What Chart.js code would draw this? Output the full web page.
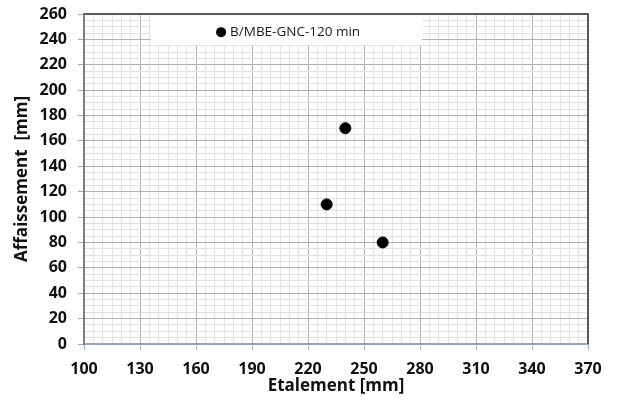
<!DOCTYPE html>
<html>
<head>
<meta charset="utf-8">
<script src="https://cdn.jsdelivr.net/npm/chart.js@4/dist/chart.umd.min.js"></script>
<style>
  html, body { margin: 0; padding: 0; background: #ffffff; }
  #wrap { width: 617px; height: 400px; }
</style>
</head>
<body>
<div id="wrap"><canvas id="c" width="617" height="400"></canvas></div>
<script>
// ---- data ----
const seriesLabel = "B/MBE-GNC-120 min";
const etalement = [240, 230, 260];     // x values [mm]
const affaissement = [170, 110, 80];   // y values [mm]
const xTickLabels = [100, 130, 160, 190, 220, 250, 280, 310, 340, 370];
const yTickLabels = [0, 20, 40, 60, 80, 100, 120, 140, 160, 180, 200, 220, 240, 260];
const xTitle = "Etalement [mm]";
const yTitle = "Affaissement  [mm]";

const points = etalement.map((x, i) => ({ x: x, y: affaissement[i] }));

const MAJOR = '#b0b0b0';
const MINOR = '#e2e2e2';

const legendBox = {
  id: 'legendBox',
  beforeDatasetsDraw(chart) {
    const ctx = chart.ctx, a = chart.chartArea;
    const w = a.right - a.left, h = a.bottom - a.top;
    const x0 = a.left + w * 0.132, x1 = a.left + w * 0.671;
    const y0 = a.top + 1, y1 = a.top + h * 0.094;
    ctx.save();
    ctx.fillStyle = '#ffffff';
    ctx.fillRect(x0, y0, x1 - x0, y1 - y0);
    // marker
    const mx = a.left + w * 0.272, my = a.top + h * 0.055;
    ctx.fillStyle = '#000000';
    ctx.beginPath();
    ctx.arc(mx, my, 5, 0, Math.PI * 2);
    ctx.fill();
    ctx.font = '13.5px "Open Sans"';
    ctx.fillStyle = '#1a1a1a';
    ctx.textBaseline = 'middle';
    ctx.textAlign = 'left';
    ctx.fillText(chart.data.datasets[0].label, mx + 9, my + 0.5);
    ctx.restore();
  },
  afterDraw(chart) {
    const ctx = chart.ctx, a = chart.chartArea;
    ctx.save();
    ctx.strokeStyle = '#595959';
    ctx.lineWidth = 2;
    ctx.beginPath();
    ctx.moveTo(a.left, a.top);
    ctx.lineTo(a.right, a.top);
    ctx.lineTo(a.right, a.bottom);
    ctx.stroke();
    ctx.restore();
  }
};

new Chart(document.getElementById('c'), {
  type: 'scatter',
  data: {
    datasets: [{
      label: seriesLabel,
      data: points,
      backgroundColor: '#000000',
      borderColor: '#000000',
      pointRadius: 5.5,
      pointHoverRadius: 5.5
    }]
  },
  options: {
    responsive: false,
    animation: false,
    events: [],
    layout: { padding: { left: 0, right: 29, top: 14, bottom: 0 } },
    plugins: {
      legend: { display: false },
      tooltip: { enabled: false }
    },
    scales: {
      x: {
        type: 'linear',
        min: xTickLabels[0],
        max: xTickLabels[xTickLabels.length - 1],
        afterFit(s) { s.height = 56; s.paddingLeft = 0; s.paddingRight = 0; },
        afterBuildTicks(s) {
          const t = [];
          for (let v = s.min; v <= s.max + 1e-9; v += 5) t.push({ value: v });
          s.ticks = t;
        },
        ticks: {
          autoSkip: false,
          maxRotation: 0,
          padding: 10,
          color: '#111111',
          font: { family: '"Open Sans"', size: 16, weight: 'bold' },
          callback: (v) => xTickLabels.includes(v) ? String(v) : ''
        },
        grid: {
          color: (c) => (c.tick && xTickLabels.includes(c.tick.value)) ? MAJOR : MINOR,
          tickColor: (c) => (c.tick && xTickLabels.includes(c.tick.value)) ? '#9db3d6' : 'rgba(0,0,0,0)',
          tickLength: 6,
          lineWidth: 1
        },
        border: { color: '#8ea4c8', width: 2 },
        title: {
          display: true,
          text: xTitle,
          color: '#111111',
          font: { family: '"Open Sans"', size: 17, weight: 'bold' },
          padding: { top: 0, bottom: 4 }
        }
      },
      y: {
        type: 'linear',
        min: yTickLabels[0],
        max: yTickLabels[yTickLabels.length - 1],
        afterFit(s) { s.width = 84; s.paddingTop = 0; s.paddingBottom = 0; },
        afterBuildTicks(s) {
          const t = [];
          for (let v = s.min; v <= s.max + 1e-9; v += 5) t.push({ value: v });
          s.ticks = t;
        },
        ticks: {
          autoSkip: false,
          padding: 11,
          color: '#111111',
          font: { family: '"Open Sans"', size: 16, weight: 'bold' },
          callback: (v) => yTickLabels.includes(v) ? String(v) : ''
        },
        grid: {
          color: (c) => (c.tick && yTickLabels.includes(c.tick.value)) ? MAJOR : MINOR,
          tickColor: (c) => (c.tick && yTickLabels.includes(c.tick.value)) ? '#a6a6a6' : 'rgba(0,0,0,0)',
          tickLength: 6,
          lineWidth: 1
        },
        border: { color: '#7f7f7f', width: 2 },
        title: {
          display: true,
          text: yTitle,
          color: '#111111',
          font: { family: '"Open Sans"', size: 17, weight: 'bold' },
          padding: { top: 12, bottom: 0 }
        }
      }
    }
  },
  plugins: [legendBox]
});
</script>
</body>
</html>
